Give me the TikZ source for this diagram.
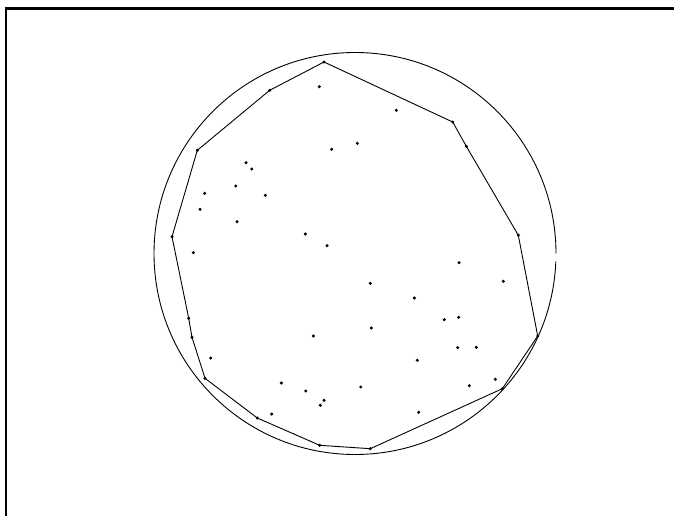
\documentclass[tikz,border=0pt]{standalone}
\begin{document}
\begin{tikzpicture}[x=1pt,y=-1pt,
  dot/.style={fill=black},
  hull/.style={draw=black,line width=0.9pt,line join=miter},
  ring/.style={draw=black,line width=0.9pt},
  frameline/.style={draw=black,line width=2.6pt}]
\useasboundingbox (0,0) rectangle (674,516);
% frame
\coordinate (fr1) at (6,516);
\coordinate (fr2) at (6,8.3);
\coordinate (fr3) at (674,8.3);
\draw[frameline] (fr1) -- (fr2) -- (fr3);
% circle (arc with small gap)
\coordinate (cc) at (355,253.5);
\draw[ring] (cc) ++(0:201) arc[start angle=0,end angle=-357.7,radius=201];
% hull vertices
\coordinate (h1) at (324,62);
\coordinate (h2) at (452.7,122);
\coordinate (h3) at (466.3,146.3);
\coordinate (h4) at (518.3,235.2);
\coordinate (h5) at (537.7,336);
\coordinate (h6) at (502.3,388.7);
\coordinate (h7) at (370.3,448.7);
\coordinate (h8) at (319.7,445.3);
\coordinate (h9) at (257.3,418);
\coordinate (h10) at (205,378.3);
\coordinate (h11) at (192,337.3);
\coordinate (h12) at (188.7,318.3);
\coordinate (h13) at (172,236.7);
\coordinate (h14) at (197.3,150.3);
\coordinate (h15) at (269.7,90.3);
\draw[hull] (h1) -- (h2) -- (h3) -- (h4) -- (h5) -- (h6) -- (h7) -- (h8) -- (h9) -- (h10) -- (h11) -- (h12) -- (h13) -- (h14) -- (h15) -- cycle;
\foreach \i in {1,...,15} \fill[dot] (h\i) circle (1.7);
% interior points
\foreach \x/\y [count=\k] in {319.3/86.7,396.3/110.3,357.3/143.3,331.7/149.3,246/162.7,251.7/169,235.7/186,204.7/193.3,265.3/195.3,200/209.3,237/221.7,305.3/234,327/245.7,193.3/252.7,459/262.7,503.3/281.3,370.3/283.3,414.3/298,444.3/319.7,458.7/317.3,371.3/328,313.3/336,457.7/347.7,476.3/347.3,210.7/358,417.3/360.3,281.3/383,360.7/387,469.3/385.7,495.3/379.3,305.7/391,324/400.3,320.3/405.3,271.7/414,418.7/412.3}
{
  \coordinate (q\k) at (\x,\y);
  \fill[dot] (q\k) circle (1.7);
}
\end{tikzpicture}
\end{document}
